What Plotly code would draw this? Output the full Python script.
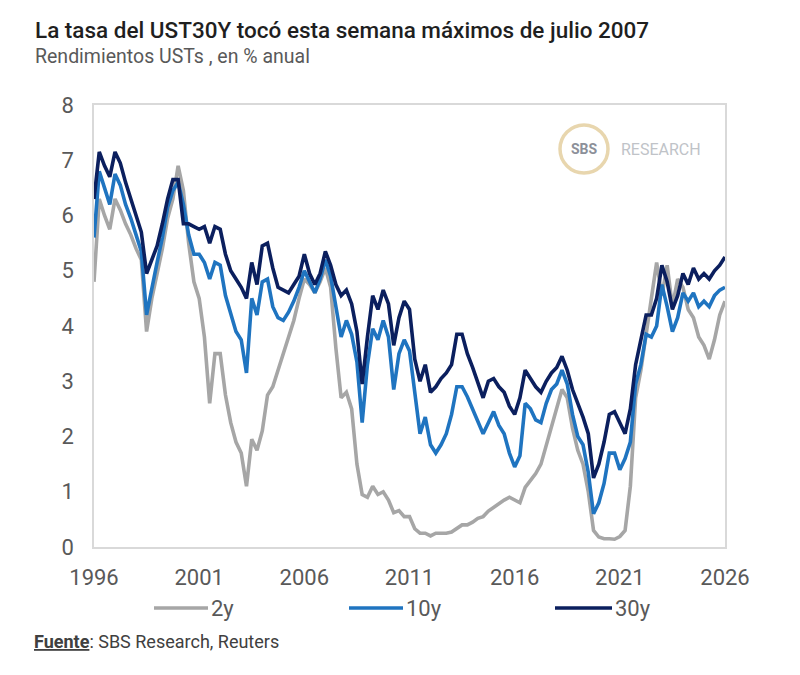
import plotly.graph_objects as go

# decimal years (shared x for all series)
years = [1996.00, 1996.25, 1996.50, 1996.75, 1997.00, 1997.25, 1997.50, 1997.75,
         1998.00, 1998.25, 1998.50, 1998.75, 1999.00, 1999.25, 1999.50, 1999.75,
         2000.00, 2000.25, 2000.50, 2000.75, 2001.00, 2001.25, 2001.50, 2001.75,
         2002.00, 2002.25, 2002.50, 2002.75, 2003.00, 2003.25, 2003.50, 2003.75,
         2004.00, 2004.25, 2004.50, 2004.75, 2005.00, 2005.25, 2005.50, 2005.75,
         2006.00, 2006.25, 2006.50, 2006.75, 2007.00, 2007.25, 2007.50, 2007.75,
         2008.00, 2008.25, 2008.50, 2008.75, 2009.00, 2009.25, 2009.50, 2009.75,
         2010.00, 2010.25, 2010.50, 2010.75, 2011.00, 2011.25, 2011.50, 2011.75,
         2012.00, 2012.25, 2012.50, 2012.75, 2013.00, 2013.25, 2013.50, 2013.75,
         2014.00, 2014.25, 2014.50, 2014.75, 2015.00, 2015.25, 2015.50, 2015.75,
         2016.00, 2016.25, 2016.50, 2016.75, 2017.00, 2017.25, 2017.50, 2017.75,
         2018.00, 2018.25, 2018.50, 2018.75, 2019.00, 2019.25, 2019.50, 2019.75,
         2020.00, 2020.25, 2020.50, 2020.75, 2021.00, 2021.25, 2021.50, 2021.75,
         2022.00, 2022.25, 2022.50, 2022.75, 2023.00, 2023.25, 2023.50, 2023.75,
         2024.00, 2024.25, 2024.50, 2024.75, 2025.00, 2025.25, 2025.50, 2025.75,
         2026.00]

y2 = [4.80, 6.30, 6.00, 5.75, 6.30, 6.10, 5.85, 5.65,
      5.40, 5.20, 3.90, 4.50, 4.95, 5.40, 5.95, 6.30,
      6.90, 6.45, 5.50, 4.80, 4.50, 3.80, 2.60, 3.50,
      3.50, 2.75, 2.25, 1.90, 1.70, 1.10, 1.95, 1.75,
      2.10, 2.75, 2.90, 3.20, 3.55, 3.85, 4.10, 4.50,
      4.85, 4.75, 4.60, 4.80, 5.05, 4.70, 3.60, 2.70,
      2.80, 2.50, 1.50, 0.95, 0.90, 1.10, 0.95, 1.00,
      0.85, 0.62, 0.66, 0.55, 0.55, 0.33, 0.25, 0.25,
      0.20, 0.25, 0.25, 0.25, 0.27, 0.33, 0.40, 0.40,
      0.45, 0.52, 0.55, 0.65, 0.72, 0.78, 0.85, 0.90,
      0.85, 0.80, 1.08, 1.20, 1.33, 1.50, 1.85, 2.20,
      2.50, 2.85, 2.70, 2.15, 1.75, 1.50, 1.00, 0.30,
      0.18, 0.15, 0.15, 0.14, 0.19, 0.30, 1.10, 2.70,
      3.20, 3.90, 4.50, 5.15, 4.55, 5.10, 4.35, 4.85,
      4.70, 4.30, 4.15, 3.80, 3.65, 3.40, 3.75, 4.20,
      4.45]

y10 = [5.60, 6.80, 6.50, 6.20, 6.75, 6.55, 6.20, 5.95,
       5.65, 5.35, 4.20, 4.70, 5.15, 5.60, 6.15, 6.45,
       6.60, 6.20, 5.65, 5.30, 5.30, 5.15, 4.85, 5.15,
       5.10, 4.55, 4.20, 3.90, 3.75, 3.15, 4.50, 4.20,
       4.80, 4.85, 4.35, 4.15, 4.10, 4.25, 4.45, 4.70,
       5.00, 4.80, 4.60, 4.85, 5.20, 4.90, 4.35, 3.80,
       4.10, 3.85, 3.35, 2.25, 3.30, 3.95, 3.75, 4.10,
       3.80, 2.85, 3.50, 3.75, 3.55, 2.80, 2.05, 2.35,
       1.85, 1.70, 1.85, 2.05, 2.40, 2.90, 2.90, 2.72,
       2.50, 2.30, 2.05, 2.25, 2.45, 2.20, 2.05, 1.70,
       1.45, 1.65, 2.60, 2.50, 2.30, 2.25, 2.60, 2.85,
       2.95, 3.20, 2.95, 2.40, 2.00, 1.85, 1.35, 0.60,
       0.80, 1.15, 1.70, 1.70, 1.40, 1.60, 1.90, 2.95,
       3.30, 3.85, 3.80, 4.00, 4.75, 4.35, 3.90, 4.15,
       4.60, 4.45, 4.60, 4.35, 4.45, 4.35, 4.55, 4.65,
       4.70]

y30 = [6.30, 7.15, 6.90, 6.70, 7.15, 6.95, 6.60, 6.30,
       6.00, 5.70, 4.95, 5.20, 5.45, 5.85, 6.30, 6.65,
       6.65, 5.85, 5.85, 5.80, 5.75, 5.80, 5.50, 5.80,
       5.75, 5.30, 5.00, 4.85, 4.70, 4.50, 5.15, 4.75,
       5.45, 5.50, 5.05, 4.70, 4.65, 4.60, 4.75, 4.90,
       5.30, 4.95, 4.75, 4.95, 5.35, 5.10, 4.75, 4.55,
       4.65, 4.40, 3.90, 2.95, 3.80, 4.55, 4.30, 4.65,
       4.40, 3.65, 4.15, 4.45, 4.30, 3.40, 3.00, 3.30,
       2.80, 2.90, 3.05, 3.15, 3.30, 3.85, 3.85, 3.50,
       3.25, 2.95, 2.70, 3.00, 3.05, 2.90, 2.80, 2.55,
       2.40, 2.70, 3.20, 3.05, 2.90, 2.80, 3.00, 3.15,
       3.25, 3.45, 3.20, 2.85, 2.60, 2.35, 2.05, 1.25,
       1.50, 1.90, 2.40, 2.45, 2.25, 2.05, 2.50, 3.30,
       3.75, 4.20, 4.20, 4.50, 5.10, 4.80, 4.30, 4.55,
       4.95, 4.75, 5.05, 4.85, 4.95, 4.85, 5.00, 5.10,
       5.25]

series_names = ["2y", "10y", "30y"]
series_colors = ["#a6a6a6", "#1f74c0", "#0b1f5e"]
x_ticks = [1996, 2001, 2006, 2011, 2016, 2021, 2026]
y_ticks = [0, 1, 2, 3, 4, 5, 6, 7, 8]

FONT = "Roboto"
TICK = "#595959"

# page pixel -> paper coordinates (plot area spans x 94..725, y 105..547 on the page)
def px(x):
    return (x - 94) / 631.0

def py(y):
    return (547 - y) / 442.0

fig = go.Figure()
for name, vals, col in zip(series_names, [y2, y10, y30], series_colors):
    fig.add_trace(go.Scatter(x=years, y=vals, mode="lines", name=name,
                             line=dict(color=col, width=3.6), showlegend=False))

# the browser adds an 8px body margin, so the figure is sized 8px smaller
fig.update_layout(
    width=792, height=667,
    margin=dict(l=86, r=75, t=97, b=128),
    paper_bgcolor="white", plot_bgcolor="white",
    font=dict(family=FONT, color=TICK),
    showlegend=False,
    xaxis=dict(range=[1996, 2026], tickvals=x_ticks, ticktext=[str(t) for t in x_ticks],
               showgrid=False, zeroline=False, showline=True, mirror=True,
               linecolor="#d9d9d9", linewidth=1.5, ticks="", ticklabelstandoff=10,
               tickfont=dict(size=22, color=TICK)),
    yaxis=dict(range=[0, 8], tickvals=y_ticks, showgrid=False, zeroline=False,
               showline=True, mirror=True, linecolor="#d9d9d9", linewidth=1.5,
               ticks="", ticklabelstandoff=14, tickfont=dict(size=22, color=TICK)),
)

annotations = [
    dict(text="La tasa del UST30Y tocó esta semana máximos de julio 2007",
         x=px(33), y=py(30), xref="paper", yref="paper", xanchor="left", yanchor="middle",
         showarrow=False, font=dict(size=22.5, color="#1f1f1f", family=FONT, weight=500)),
    dict(text="Rendimientos USTs , en % anual",
         x=px(33), y=py(57), xref="paper", yref="paper", xanchor="left", yanchor="middle",
         showarrow=False, font=dict(size=19.5, color="#595959", family=FONT)),
    dict(text="<u><b>Fuente</b></u>: SBS Research, Reuters",
         x=px(32), y=py(641), xref="paper", yref="paper", xanchor="left", yanchor="middle",
         showarrow=False, font=dict(size=18, color="#404040", family=FONT)),
    dict(text="<b>SBS</b>", x=px(584), y=py(149), xref="paper", yref="paper",
         xanchor="center", yanchor="middle", showarrow=False,
         font=dict(size=14, color="#8c9099", family=FONT)),
    dict(text="RESEARCH", x=px(619), y=py(149), xref="paper", yref="paper",
         xanchor="left", yanchor="middle", showarrow=False,
         font=dict(size=16, color="#c0c3c8", family=FONT)),
]

# custom legend (long line swatches like the reference)
legend_lines = [(154, 208), (349, 403), (555, 612)]
shapes = []
for (x0, x1), name, col in zip(legend_lines, series_names, series_colors):
    shapes.append(dict(type="line", xref="paper", yref="paper",
                       x0=px(x0), x1=px(x1), y0=py(608), y1=py(608),
                       line=dict(color=col, width=3.5)))
    annotations.append(dict(text=name, x=px(x1 + 1), y=py(608), xref="paper", yref="paper",
                            xanchor="left", yanchor="middle", showarrow=False,
                            font=dict(size=22, color=TICK, family=FONT)))

shapes.append(dict(type="circle", xref="paper", yref="paper",
                   x0=px(584 - 24), x1=px(584 + 24), y0=py(149 + 24), y1=py(149 - 24),
                   line=dict(color="#e8d6ae", width=3.5), fillcolor="white", layer="below"))

fig.update_layout(annotations=annotations, shapes=shapes)
fig.write_html("out.html")
